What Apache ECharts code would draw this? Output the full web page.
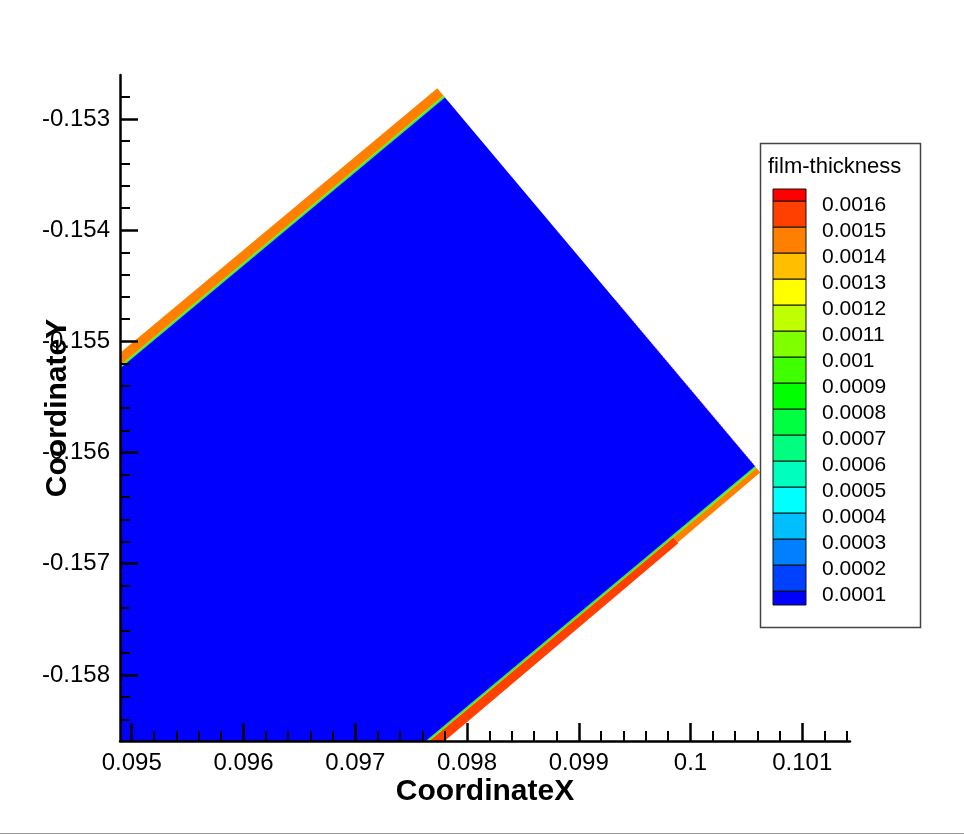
<!DOCTYPE html>
<html><head><meta charset="utf-8">
<script src="https://cdn.jsdelivr.net/npm/echarts@6/dist/echarts.min.js"></script>
<style>html,body{margin:0;padding:0;background:#fff}#c{width:964px;height:835px}</style>
</head><body><div id="c"></div>
<script>
// ---- axis ticks ----
const xTickLabels = [0.095, 0.096, 0.097, 0.098, 0.099, 0.1, 0.101];
const yTickLabels = [-0.153, -0.154, -0.155, -0.156, -0.157, -0.158];
const xRange = [0.094895, 0.101427];
const yRange = [-0.158594, -0.152605];

// ---- contour levels of film-thickness (legend) ----
const legendLevels = [0.0001, 0.0002, 0.0003, 0.0004, 0.0005, 0.0006, 0.0007, 0.0008,
                      0.0009, 0.001, 0.0011, 0.0012, 0.0013, 0.0014, 0.0015, 0.0016];
const levelColors = ['#0000ff', '#0040ff', '#0080ff', '#00bfff', '#00ffff', '#00ffbf', '#00ff80', '#00ff40',
                     '#00ff00', '#40ff00', '#80ff00', '#bfff00', '#ffff00', '#ffbf00', '#ff8000', '#ff4000', '#ff0000'];
const legendRange = [0.0000462, 0.0016462];

// ---- film-thickness field: regions (data coords) and their values ----
const filmValues = [0.00145, 0.00145, 0.00155, 0.00105, 0.00065, 0.00105, 0.00065, 0.00005];
const filmPolys = [
  // upper-left edge film (orange)
  [[0.091073, -0.158449], [0.097803, -0.152807], [0.097734, -0.152724], [0.091004, -0.158366]],
  // lower-right edge film, upper part (orange)
  [[0.100577, -0.156124], [0.099834, -0.156747], [0.099886, -0.156809], [0.100623, -0.156179]],
  // lower-right edge film, lower part (red-orange)
  [[0.099834, -0.156747], [0.093847, -0.161766], [0.093939, -0.161877], [0.099891, -0.156816]],
  // upper-left transition (outer)
  [[0.0910661, -0.1584407], [0.0977961, -0.1527987], [0.0977892, -0.1527904], [0.0910592, -0.1584324]],
  // upper-left transition (inner)
  [[0.091073, -0.158449], [0.097803, -0.152807], [0.0977961, -0.1527987], [0.0910661, -0.1584407]],
  // lower-right transition (outer)
  [[0.1005839, -0.1561323], [0.0938539, -0.1617743], [0.0938608, -0.1617826], [0.1005908, -0.1561406]],
  // lower-right transition (inner)
  [[0.100577, -0.156124], [0.093847, -0.161766], [0.0938539, -0.1617743], [0.1005839, -0.1561323]],
  // dry core
  [[0.091073, -0.158449], [0.097803, -0.152807], [0.100577, -0.156124], [0.093847, -0.161766]]
];
const fringeEdge = [[0.099329, -0.154631], [0.100577, -0.156124]];

function colorFor(v) {
  let idx = 0;
  for (const l of legendLevels) if (v >= l) idx++;
  return levelColors[idx];
}
function minorTicks(range, majors) {
  const out = [];
  const lo = Math.ceil(range[0] / 0.0002), hi = Math.floor(range[1] / 0.0002);
  for (let i = lo; i <= hi; i++) {
    const v = +(i * 0.0002).toFixed(4);
    if (v < range[0] || v > range[1]) continue;
    if (majors.some(m => Math.abs(m - v) < 1e-9)) continue;
    out.push(v);
  }
  return out;
}
const xMinor = minorTicks(xRange, xTickLabels);
const yMinor = minorTicks(yRange, yTickLabels);

const FONT = '"Liberation Sans", Arial, sans-serif';
const chart = echarts.init(document.getElementById('c'), null, {renderer: 'canvas'});

const option = {
  animation: false,
  backgroundColor: '#fff',
  textStyle: {fontFamily: FONT},
  grid: [
    {left: 120, top: 75, width: 730, height: 666, containLabel: false, outerBoundsMode: 'none'},
    {left: 773, top: 189, width: 33, height: 416, containLabel: false, outerBoundsMode: 'none'}
  ],
  xAxis: [
    {
      type: 'value', gridIndex: 0, min: xRange[0], max: xRange[1], position: 'bottom', z: 5,
      axisLine: {show: true, onZero: false, lineStyle: {color: '#000', width: 2.5}},
      axisTick: {show: true, inside: true, length: 18, customValues: xTickLabels, lineStyle: {color: '#000', width: 2.5}},
      axisLabel: {customValues: xTickLabels, margin: 10, fontSize: 24, color: '#000', fontFamily: FONT, formatter: v => String(v)},
      splitLine: {show: false},
      name: 'CoordinateX', nameLocation: 'middle', nameGap: 36, nameMoveOverlap: false,
      nameTextStyle: {fontSize: 30, fontWeight: 'bold', color: '#000', fontFamily: FONT}
    },
    {type: 'value', gridIndex: 1, min: 0, max: 1, show: false},
    {
      type: 'value', gridIndex: 0, min: xRange[0], max: xRange[1], position: 'bottom', offset: 0, z: 5,
      axisLine: {show: false},
      axisTick: {show: true, inside: true, length: 10, customValues: xMinor, lineStyle: {color: '#000', width: 2}},
      axisLabel: {show: false}, splitLine: {show: false}
    }
  ],
  yAxis: [
    {
      type: 'value', gridIndex: 0, min: yRange[0], max: yRange[1], position: 'left', z: 5,
      axisLine: {show: true, onZero: false, lineStyle: {color: '#000', width: 2.5}},
      axisTick: {show: true, inside: true, length: 18, customValues: yTickLabels, lineStyle: {color: '#000', width: 2.5}},
      axisLabel: {customValues: yTickLabels, margin: 10, fontSize: 24, color: '#000', fontFamily: FONT,
                  formatter: v => String(v)},
      splitLine: {show: false},
      name: 'CoordinateY', nameLocation: 'middle', nameGap: 47, nameRotate: 90, nameMoveOverlap: false,
      nameTextStyle: {fontSize: 30, fontWeight: 'bold', color: '#000', fontFamily: FONT}
    },
    {
      type: 'value', gridIndex: 1, min: legendRange[0], max: legendRange[1], position: 'right',
      axisLine: {show: false}, axisTick: {show: false}, splitLine: {show: false}, axisLabel: {show: false}
    },
    {
      type: 'value', gridIndex: 0, min: yRange[0], max: yRange[1], position: 'left', offset: 0, z: 5,
      axisLine: {show: false},
      axisTick: {show: true, inside: true, length: 10, customValues: yMinor, lineStyle: {color: '#000', width: 2}},
      axisLabel: {show: false}, splitLine: {show: false}
    }
  ],
  series: [
    {
      type: 'line', xAxisIndex: 0, yAxisIndex: 0, data: fringeEdge, symbol: 'none', silent: true, z: 1,
      lineStyle: {color: '#ff7060', width: 1.5, type: 'dotted', opacity: 0.6}
    },
    {
      type: 'custom', xAxisIndex: 0, yAxisIndex: 0, clip: true, silent: true, z: 2,
      data: filmValues,
      renderItem: function (params, api) {
        const i = params.dataIndex;
        const pts = filmPolys[i].map(p => api.coord(p));
        return {type: 'polygon', shape: {points: pts}, style: {fill: colorFor(filmValues[i])}};
      }
    },
    {
      type: 'custom', xAxisIndex: 1, yAxisIndex: 1, clip: false, silent: true, z: 3,
      data: levelColors.map((c, i) => i),
      renderItem: function (params, api) {
        const i = params.dataIndex;
        const lo = i === 0 ? legendRange[0] : legendLevels[i - 1];
        const hi = i === levelColors.length - 1 ? legendRange[1] : legendLevels[i];
        const p1 = api.coord([0, hi]);
        const p2 = api.coord([1, lo]);
        const children = [{type: 'rect', shape: {x: p1[0], y: p1[1], width: p2[0] - p1[0], height: p2[1] - p1[1]},
                style: {fill: levelColors[i], stroke: '#111', lineWidth: 1}}];
        if (i > 0) {
          children.push({type: 'text', x: p2[0] + 16, y: p2[1] + 4,
            style: {text: String(+lo.toFixed(4)), fontSize: 21, fontFamily: FONT, fill: '#000',
                    verticalAlign: 'middle', align: 'left'}});
        }
        return {type: 'group', children: children};
      }
    }
  ],
  graphic: [
    {type: 'rect', z: 10, shape: {x: 760.5, y: 143.5, width: 160, height: 484},
     style: {fill: 'none', stroke: '#444', lineWidth: 1.5}},
    {type: 'text', z: 10, x: 768, y: 167,
     style: {text: 'film-thickness', fontSize: 22, fontFamily: FONT, fill: '#000', verticalAlign: 'middle', align: 'left'}},
    {type: 'line', z: 10, shape: {x1: 0, y1: 833.5, x2: 964, y2: 833.5}, style: {stroke: '#999', lineWidth: 1}}
  ]
};
chart.setOption(option);
</script>
</body></html>
